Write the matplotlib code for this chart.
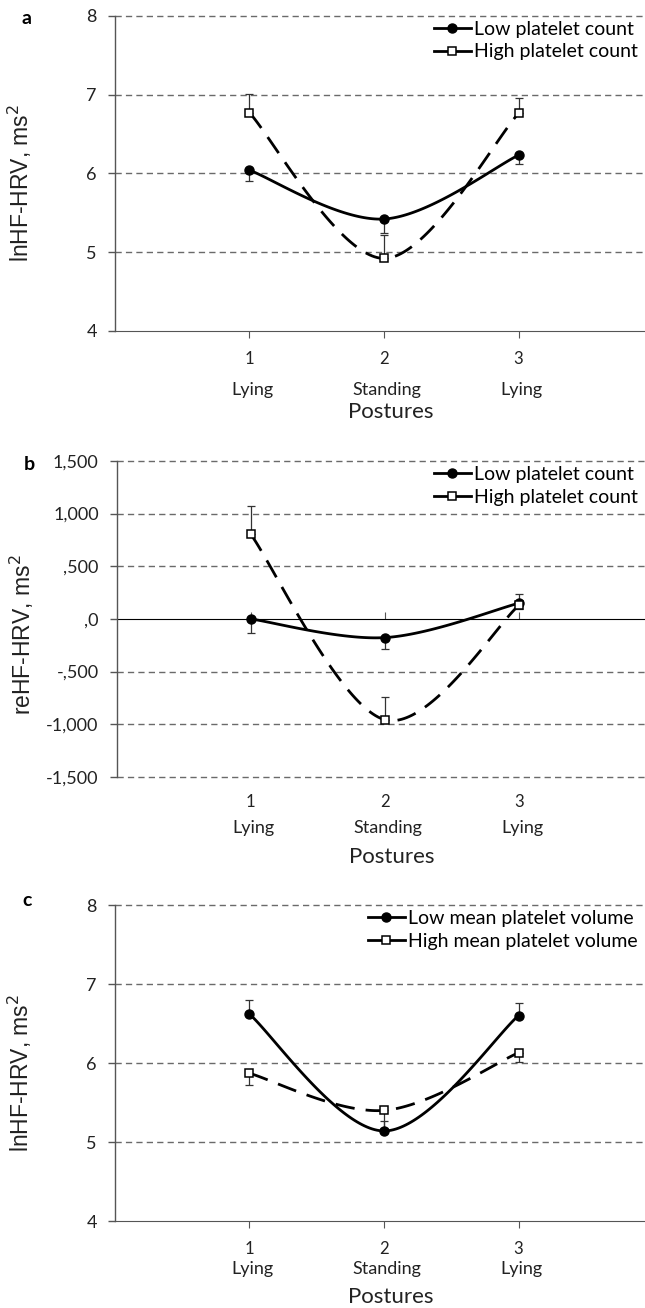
import numpy as np
import matplotlib
matplotlib.use('Agg')
import matplotlib.pyplot as plt
from matplotlib.lines import Line2D

plt.rcParams['font.family'] = ['Lato', 'DejaVu Sans']

# positions and labels on the x axis
postures = [1, 2, 3]
posture_names = ['Lying', 'Standing', 'Lying']

# panel a: lnHF-HRV by platelet count
a_low = [6.04, 5.42, 6.23]
a_low_err = [0.14, 0.18, 0.11]      # drawn downward
a_high = [6.77, 4.92, 6.76]
a_high_err = [0.24, 0.30, 0.19]     # drawn upward

# panel b: reHF-HRV by platelet count
b_low = [0, -177, 150]
b_low_err = [136, 110, 60]          # downward
b_high = [803, -957, 130]
b_high_err = [268, 218, 110]        # upward
b_ticks = [-1500, -1000, -500, 0, 500, 1000, 1500]
b_ticklabels = ['-1,500', '-1,000', '-,500', ',0', ',500', '1,000', '1,500']

# panel c: lnHF-HRV by mean platelet volume
c_low = [6.62, 5.14, 6.60]
c_low_err = [0.18, 0.12, 0.16]      # upward
c_high = [5.87, 5.40, 6.13]
c_high_err = [0.15, 0.22, 0.12]     # downward


def smooth(xs, ys, n=60):
    # excel style smoothed line (bezier with catmull-rom tangents)
    xs = np.asarray(xs, float)
    ys = np.asarray(ys, float)
    px = np.concatenate([[xs[0]], xs, [xs[-1]]])
    py = np.concatenate([[ys[0]], ys, [ys[-1]]])
    t = np.linspace(0, 1, n)
    outx, outy = [], []
    for i in range(1, len(px) - 2):
        p0 = np.array([px[i], py[i]])
        p3 = np.array([px[i + 1], py[i + 1]])
        c1 = p0 + (np.array([px[i + 1], py[i + 1]]) - np.array([px[i - 1], py[i - 1]])) / 6
        c2 = p3 - (np.array([px[i + 2], py[i + 2]]) - np.array([px[i], py[i]])) / 6
        b = ((1 - t) ** 3)[:, None] * p0 + (3 * (1 - t) ** 2 * t)[:, None] * c1 \
            + (3 * (1 - t) * t ** 2)[:, None] * c2 + (t ** 3)[:, None] * p3
        outx.extend(b[:, 0])
        outy.extend(b[:, 1])
    return outx, outy


fig = plt.figure(figsize=(6.45, 13.08), dpi=100)

grid_kw = dict(color='#6a6a6a', lw=1.0, ls=(0, (4.5, 3)), zorder=0, clip_on=False)
dash = (0, (7, 4))


def draw_panel(ax, low, low_err, low_dir, high, high_err, high_dir, labels, ylabel, letter,
               ylim, yticks, yticklabels, zero_axis=False, name_off=50, post_off=80,
               letter_y=0.99, ylabel_y=0.47):
    ax.set_xlim(0, 3.94)
    ax.set_ylim(*ylim)
    for y in yticks:
        if zero_axis and y == 0:
            continue
        if not zero_axis and y == ylim[0]:
            continue
        ax.axhline(y, **grid_kw)

    # smoothed lines
    sx, sy = smooth(postures, low)
    ax.plot(sx, sy, color='black', lw=2.0, zorder=3)
    sx, sy = smooth(postures, high)
    ax.plot(sx, sy, color='black', lw=2.0, ls=dash, zorder=3)

    def err(vals, d):
        z = [0] * len(vals)
        return [vals, z] if d == 'down' else [z, vals]

    ax.errorbar(postures, low, yerr=err(low_err, low_dir), fmt='none', ecolor='#333333',
                elinewidth=0.9, capsize=3, capthick=0.9, zorder=2)
    ax.errorbar(postures, high, yerr=err(high_err, high_dir), fmt='none', ecolor='#333333',
                elinewidth=0.9, capsize=3, capthick=0.9, zorder=2)
    ax.plot(postures, low, ls='none', marker='o', ms=6.5, color='black', zorder=4)
    ax.plot(postures, high, ls='none', marker='s', ms=6, mfc='white', mec='black',
            mew=1.1, zorder=4)

    for s in ['top', 'right']:
        ax.spines[s].set_visible(False)
    ax.spines['left'].set_color('#555555')
    ax.spines['left'].set_linewidth(1.0)

    ax.set_yticks(yticks)
    ax.set_yticklabels(yticklabels)
    ax.tick_params(axis='y', length=5, width=1.0, color='#555555', pad=8,
                   labelsize=13, labelcolor='#222222')

    ax.set_xticks(postures)
    ax.set_xticklabels([str(p) for p in postures])
    if zero_axis:
        ax.spines['bottom'].set_visible(False)
        ax.tick_params(axis='x', length=0, pad=12, labelsize=12, labelcolor='#222222')
        sec = ax.secondary_xaxis((0 - ylim[0]) / (ylim[1] - ylim[0]))
        sec.set_xticks(postures)
        sec.set_xticklabels([])
        sec.spines['bottom'].set_color('#555555')
        sec.tick_params(axis='x', length=5, color='#555555')
    else:
        ax.spines['bottom'].set_color('#555555')
        ax.tick_params(axis='x', length=5, color='#555555', pad=9.5, labelsize=12,
                       labelcolor='#222222')

    for p, nm in zip(postures, posture_names):
        ax.annotate(nm, xy=(p, 0), xycoords=('data', 'axes fraction'),
                    xytext=(3, -name_off), textcoords='offset pixels',
                    ha='center', va='center', fontsize=13, color='#222222')
    ax.annotate('Postures', xy=(2.05, 0), xycoords=('data', 'axes fraction'),
                xytext=(0, -post_off), textcoords='offset pixels',
                ha='center', va='center', fontsize=16, color='#222222')

    ax.set_ylabel(ylabel, fontsize=16.5, family=['Liberation Sans', 'DejaVu Sans'],
                  color='#222222')
    ax.yaxis.set_label_coords(-0.152, ylabel_y)
    ax.text(-0.166, letter_y, letter, transform=ax.transAxes, fontsize=14, fontweight='bold',
            ha='center', va='center')

    handles = [Line2D([], [], color='black', lw=2.0, marker='o', ms=6.5),
               Line2D([], [], color='black', lw=2.0, marker='s', ms=6, mfc='white', mew=1.1)]
    ax.legend(handles, labels, loc='upper right', bbox_to_anchor=(0.995, 1.0), frameon=False,
              fontsize=14, handlelength=1.9, handletextpad=0.15, borderpad=0.25,
              labelspacing=0.3, borderaxespad=0.0)


ax_a = fig.add_axes([0.178, 0.747, 0.822, 0.241])
draw_panel(ax_a, a_low, a_low_err, 'down', a_high, a_high_err, 'up',
           ['Low platelet count', 'High platelet count'],
           'lnHF-HRV, ms$^2$', 'a', (4, 8), [4, 5, 6, 7, 8], ['4', '5', '6', '7', '8'],
           name_off=59, post_off=81, ylabel_y=0.47)

ax_b = fig.add_axes([0.181, 0.406, 0.819, 0.2416])
draw_panel(ax_b, b_low, b_low_err, 'down', b_high, b_high_err, 'up',
           ['Low platelet count', 'High platelet count'],
           'reHF-HRV, ms$^2$', 'b', (-1500, 1500), b_ticks, b_ticklabels, zero_axis=True,
           name_off=51, post_off=80, ylabel_y=0.45)

ax_c = fig.add_axes([0.178, 0.0665, 0.822, 0.2416])
draw_panel(ax_c, c_low, c_low_err, 'up', c_high, c_high_err, 'down',
           ['Low mean platelet volume', 'High mean platelet volume'],
           'lnHF-HRV, ms$^2$', 'c', (4, 8), [4, 5, 6, 7, 8], ['4', '5', '6', '7', '8'],
           name_off=48, post_off=76, letter_y=1.015, ylabel_y=0.47)

fig.savefig('out.png', dpi=100)
